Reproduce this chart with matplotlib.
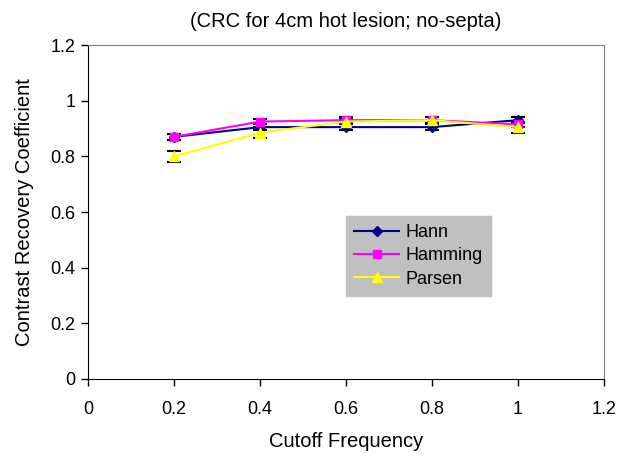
import matplotlib.pyplot as plt

plt.rcParams['font.family'] = ['Liberation Sans', 'DejaVu Sans']

cutoff = [0.2, 0.4, 0.6, 0.8, 1.0]
hann = [0.87, 0.905, 0.905, 0.905, 0.93]
hamming = [0.87, 0.925, 0.93, 0.93, 0.915]
parsen = [0.80, 0.885, 0.925, 0.93, 0.905]
hann_err = [0.01, 0.01, 0.01, 0.01, 0.01]
hamming_err = [0.01, 0.01, 0.01, 0.01, 0.01]
parsen_err = [0.02, 0.02, 0.01, 0.01, 0.02]

fig = plt.figure(figsize=(6.22, 4.58), dpi=100)
ax = fig.add_axes([0.1415, 0.1725, 0.8295, 0.7292])

series = [
    ("Hann", hann, hann_err, "#000080", "D", 5),
    ("Hamming", hamming, hamming_err, "#FF00FF", "s", 6),
    ("Parsen", parsen, parsen_err, "#FFFF00", "^", 7),
]
for name, vals, err, col, mk, ms in series:
    ax.errorbar(cutoff, vals, yerr=err, fmt='none', ecolor='black',
                elinewidth=1, capsize=5, capthick=1.5, zorder=2)
    ax.plot(cutoff, vals, color=col, marker=mk, markersize=ms,
            linewidth=1.5, label=name, zorder=3)

ax.set_xlim(0, 1.2)
ax.set_ylim(0, 1.2)
ticks = [0, 0.2, 0.4, 0.6, 0.8, 1, 1.2]
tick_labels = ["0", "0.2", "0.4", "0.6", "0.8", "1", "1.2"]
ax.set_xticks(ticks)
ax.set_xticklabels(tick_labels)
ax.set_yticks(ticks)
ax.set_yticklabels(tick_labels)
ax.tick_params(direction='out', length=5, labelsize=13, width=1)
ax.tick_params(axis='x', pad=11)
ax.tick_params(axis='y', pad=4)

for s in ['top', 'right']:
    ax.spines[s].set_color('#808080')
for s in ['left', 'bottom']:
    ax.spines[s].set_color('black')

ax.set_xlabel("Cutoff Frequency", fontsize=14.5, labelpad=10)
ax.set_ylabel("Contrast Recovery Coefficient", fontsize=14.5, labelpad=12)
ax.set_title("(CRC for 4cm hot lesion; no-septa)", fontsize=14.5, pad=13)

leg = ax.legend(loc='upper left', bbox_to_anchor=(346 / 622, 1 - 216 / 458),
                bbox_transform=fig.transFigure, fontsize=13,
                frameon=True, fancybox=False, handlelength=2.5,
                handletextpad=0.35, borderpad=0.45, labelspacing=0.35,
                borderaxespad=0)
leg.get_frame().set_facecolor('#C0C0C0')
leg.get_frame().set_edgecolor('#C0C0C0')
leg.get_frame().set_alpha(1)

fig.savefig("out.png", dpi=100)
